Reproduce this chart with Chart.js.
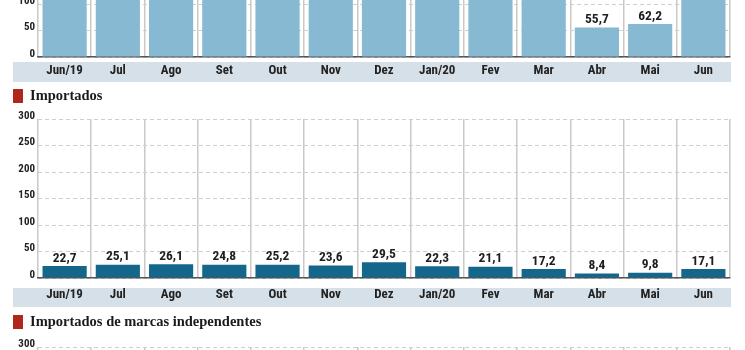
<!DOCTYPE html>
<html>
<head>
<meta charset="utf-8">
<script src="https://cdn.jsdelivr.net/npm/chart.js@4"></script>
<style>
    body { margin: 0; background: #fff; width: 745px; height: 350px; overflow: hidden; position: relative; }
    .band { position: absolute; left: 13px; width: 718px; background: #d6e0e8; }
    .chart { position: absolute; left: 0; width: 745px; height: 205px; }
    .title { position: absolute; left: 30px; font: bold 14.5px "Liberation Serif", serif; color: #1a1a1a; }
    .square { position: absolute; left: 13px; width: 10px; height: 14px; background: #b0281c; }
</style>
</head>
<body>
<div class="band" style="top:62px;height:20px"></div>
<div class="band" style="top:288px;height:19px"></div>
<div class="chart" style="top:-112px"><canvas id="chartTotal"></canvas></div>
<div class="square" style="top:89px"></div>
<div class="title" style="top:87px">Importados</div>
<div class="chart" style="top:109px"><canvas id="chartImportados"></canvas></div>
<div class="square" style="top:315px"></div>
<div class="title" style="top:313px">Importados de marcas independentes</div>
<div class="chart" style="top:337px"><canvas id="chartIndependentes"></canvas></div>
<script>
const months = ['Jun/19', 'Jul', 'Ago', 'Set', 'Out', 'Nov', 'Dez', 'Jan/20', 'Fev', 'Mar', 'Abr', 'Mai', 'Jun'];
// bars above ~105 are cut off in the picture, those values are guesses
const totalValues = [214.5, 228.1, 176.3, 182.7, 205.4, 190.2, 203.8, 168.9, 174.6, 126.4, 55.7, 62.2, 148.3];
const importadosValues = [22.7, 25.1, 26.1, 24.8, 25.2, 23.6, 29.5, 22.3, 21.1, 17.2, 8.4, 9.8, 17.1];
const independentesValues = [];
const yMax = 300;
const yStep = 50;
const labelFont = '"Roboto Condensed", "DejaVu Sans Condensed", sans-serif';

const valueLabels = {
    id: 'valueLabels',
    afterDatasetsDraw(chart) {
        const ctx = chart.ctx;
        ctx.save();
        ctx.font = 'bold 13.5px ' + labelFont;
        ctx.fillStyle = '#1e1e1e';
        ctx.textAlign = 'center';
        ctx.textBaseline = 'bottom';
        chart.getDatasetMeta(0).data.forEach((bar, i) => {
            const v = chart.data.datasets[0].data[i];
            if (v == null) return;
            ctx.fillText(v.toFixed(1).replace('.', ','), bar.x, bar.y - 1);
        });
        ctx.restore();
    }
};

function makeChart(id, values, color, labelPadding) {
    const ctx = document.getElementById(id);
    return new Chart(ctx, {
        type: 'bar',
        data: {
            labels: months,
            datasets: [{
                data: values,
                backgroundColor: color,
                barPercentage: 0.83,
                categoryPercentage: 1
            }]
        },
        options: {
            responsive: true,
            maintainAspectRatio: false,
            animation: false,
            layout: { padding: { top: 10, right: 15, left: 0, bottom: 0 } },
            plugins: { legend: { display: false }, tooltip: { enabled: false } },
            scales: {
                x: {
                    grid: { color: '#c9c9c9', lineWidth: 1.5, drawTicks: false },
                    border: { display: true, color: '#555', width: 1.5 },
                    ticks: {
                        padding: labelPadding,
                        color: '#222',
                        font: { family: labelFont, size: 13, weight: 'bold' }
                    },
                    afterFit: scale => { scale.height = 36; }
                },
                y: {
                    min: 0,
                    max: yMax,
                    grid: { color: '#cfcfcf', lineWidth: 1, drawTicks: false },
                    border: { display: false, dash: [4, 3] },
                    ticks: {
                        stepSize: yStep,
                        padding: 3,
                        labelOffset: -3,
                        color: '#222',
                        font: { family: labelFont, size: 11, weight: 'bold' }
                    },
                    afterFit: scale => { scale.width = 38; }
                }
            }
        },
        plugins: [valueLabels]
    });
}

makeChart('chartTotal', totalValues, '#87b9d3', 6);
makeChart('chartImportados', importadosValues, '#14668a', 9);
makeChart('chartIndependentes', independentesValues, '#14668a', 9);
</script>
</body>
</html>
